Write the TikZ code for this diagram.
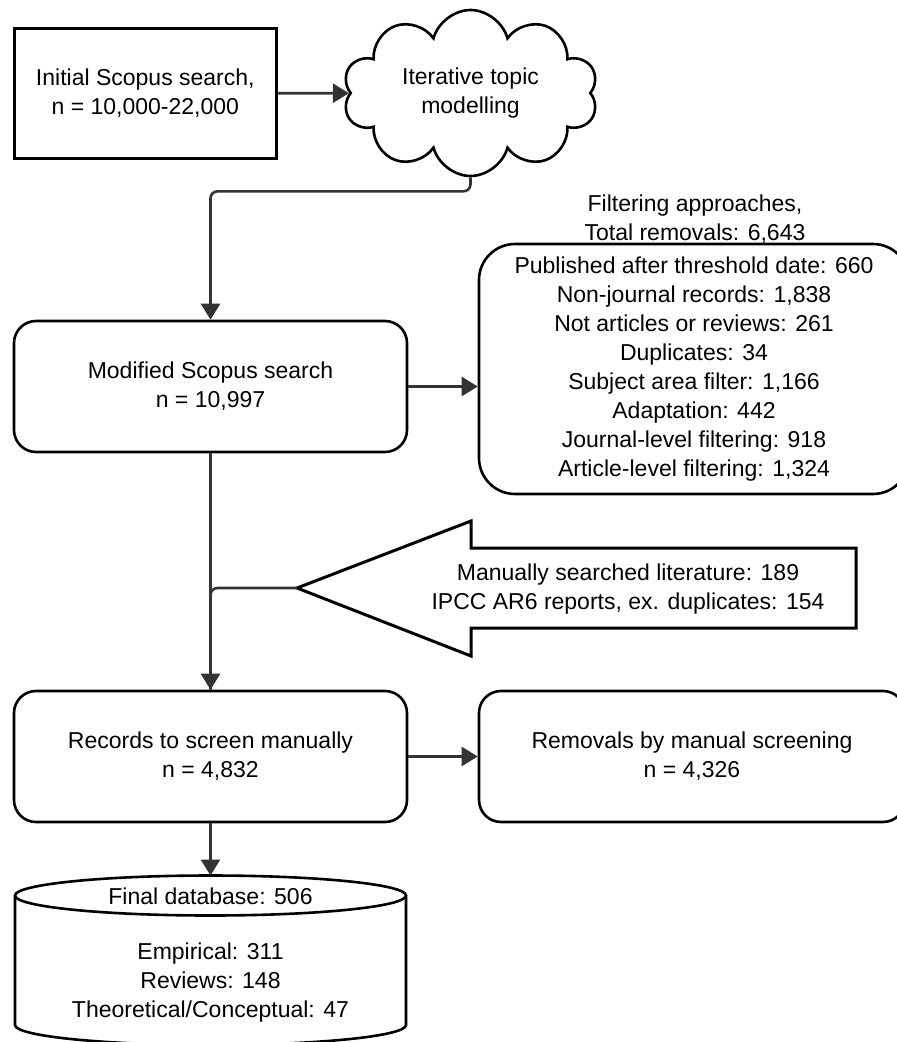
\documentclass[tikz,border=0pt]{standalone}
\usepackage{fontspec}
\setmainfont{Liberation Sans}
\usetikzlibrary{arrows.meta}
\usetikzlibrary{shapes.symbols}
\definecolor{flowgray}{HTML}{333333}
\tikzset{>={Triangle[length=16pt,width=19pt]}}
\tikzset{
  stepbox/.style={draw, line width=3.5pt, align=center},
  roundbox/.style={draw, line width=2.6pt, rounded corners=22pt, align=center},
  flow/.style={->, draw=flowgray, line width=2.6pt},
  link/.style={draw=flowgray, line width=2.6pt},
  bigarrow/.style={draw, line width=3pt, fill=white, line join=miter}
}

\begin{document}
\begin{tikzpicture}[x=1pt, y=-1pt,
    every node/.style={font=\fontsize{23}{29}\selectfont}]
      \clip (0,0) rectangle (897,1042);
      % boxes
      \node[stepbox, minimum width=262pt, minimum height=130pt] (init) at (145.3,93.5) {Initial Scopus search,\\n = 10,000-22,000};
      \node[draw, cloud, cloud puffs=10, cloud ignores aspect, line width=2.6pt, minimum width=255pt, minimum height=166pt, align=center] (topic) at (470.5,93) {Iterative topic\\modelling};
      \node[roundbox, minimum width=393pt, minimum height=131pt] (modsearch) at (210.5,386.5) {Modified Scopus search\\n = 10,997};
      \node[align=center] (filtitle) at (695,219) {Filtering approaches,\\Total removals: 6,643};
      \node[roundbox, rounded corners=36pt, minimum width=430pt, minimum height=250pt] (filters) at (694,369) {Published after threshold date: 660\\Non-journal records: 1,838\\Not articles or reviews: 261\\Duplicates: 34\\Subject area filter: 1,166\\Adaptation: 442\\Journal-level filtering: 918\\Article-level filtering: 1,324};
      \node[roundbox, minimum width=393pt, minimum height=131pt] (records) at (210.5,756.5) {Records to screen manually\\n = 4,832};
      \node[roundbox, minimum width=426pt, minimum height=131pt] (removals) at (692,756.5) {Removals by manual screening\\n = 4,326};
      % added literature
      \coordinate (littip) at (297,588);
      \draw[bigarrow] (littip) -- (471,521) -- (471,548) -- (856,548) -- (856,628) -- (471,628) -- (471,656) -- cycle;
      \node[align=center] (manual) at (628,589) {Manually searched literature: 189\\IPCC AR6 reports, ex. duplicates: 154};
      % database
      \coordinate (dbtop) at (210.5,875.5);
      \draw[line width=2.6pt, fill=white] (15,895.5) -- (15,1025) arc[start angle=180, end angle=360, x radius=195.5pt, y radius=20pt] -- (406,895.5);
      \draw[line width=2.6pt, fill=white] (210.5,895.5) ellipse [x radius=195.5pt, y radius=20pt];
      \node (dbhead) at (210.5,896) {Final database: 506};
      \node[align=center] (dbbody) at (210.5,983) {Empirical: 311\\Reviews: 148\\Theoretical/Conceptual: 47};
      % connectors
      \draw[flow] (init) -- (topic);
      \draw[flow, rounded corners=7pt] (topic.south) -- ++(0,14) -| (modsearch.north);
      \draw[flow] (modsearch.east) -- (modsearch.east -| filters.west);
      \draw[flow] (modsearch) -- (records);
      \draw[link, rounded corners=7pt] (littip) -| (records.north);
      \draw[flow] (records) -- (removals);
      \draw[flow] (records) -- (dbtop);
    \end{tikzpicture}
\end{document}
